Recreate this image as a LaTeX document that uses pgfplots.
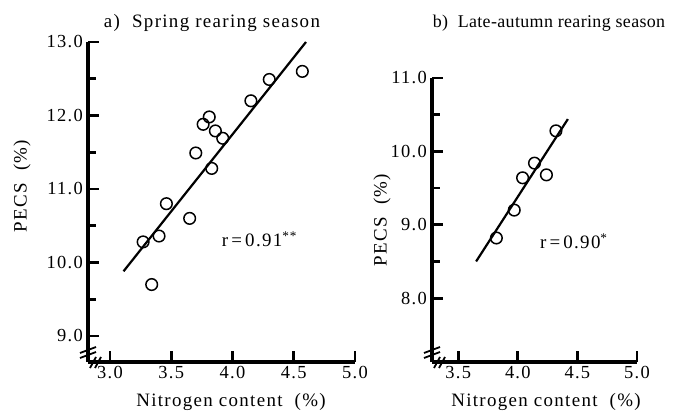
\documentclass[border=0pt]{standalone}
\usepackage{pgfplots}
\pgfplotsset{compat=1.18}
\usepackage{fontspec}
\setmainfont{Liberation Serif}[LetterSpace=7]
\newfontfamily\tightfont{Liberation Serif}[LetterSpace=2]
\pgfplotstableread{
x y
4.57 12.60
4.30 12.49
4.15 12.20
3.81 11.98
3.76 11.88
3.86 11.79
3.92 11.69
3.70 11.49
3.83 11.28
3.46 10.80
3.65 10.60
3.40 10.36
3.27 10.28
3.34 9.70
}\springdata
\pgfplotstableread{
x y
4.32 10.28
4.14 9.84
4.04 9.64
4.24 9.68
3.97 9.20
3.82 8.82
}\autumndata
\pgfplotsset{
  myax/.style={
    scale only axis,
    axis lines=left,
    axis line style={line width=3.6bp,black,-},
    every outer x axis line/.append style={line width=3.6bp},
    every outer y axis line/.append style={line width=3.6bp},
    tick style={line width=2.8bp,black},
    major tick length=11bp,
    minor tick length=7.5bp,
    tick align=inside,
    minor y tick num=1,
    xtick={3,3.5,4,4.5,5},
    xticklabel style={/pgf/number format/fixed,/pgf/number format/fixed zerofill,/pgf/number format/precision=1,/pgf/number format/assume math mode=true, font=\fontsize{18.5}{20}\selectfont, inner sep=0pt, yshift=-4bp},
    yticklabel style={/pgf/number format/fixed,/pgf/number format/fixed zerofill,/pgf/number format/precision=1,/pgf/number format/assume math mode=true, font=\fontsize{18.5}{20}\selectfont, inner sep=0pt, xshift=-5bp},
    clip=false,
  }
}
\begin{document}
\begin{tikzpicture}
\path[use as bounding box] (0,0) rectangle (688bp,412bp);
% panel a
\begin{axis}[myax, at={(88bp,50bp)}, anchor=south west,
  width=267bp, height=320bp,
  xmin=2.82, xmax=5.0, ymin=8.646, ymax=13.0,
  ytick={9,10,11,12,13}]
\addplot[only marks, mark=o, mark size=5.8bp, mark options={line width=1.5bp}] table {\springdata};
\addplot[line width=2.2bp] coordinates {(3.11,9.88) (4.60,13.0)};
\node[font=\fontsize{19}{20}\selectfont] at (axis cs:4.22,10.32) {r\,=\,0.91\textsuperscript{**}};
\end{axis}
% panel b
\begin{axis}[myax, at={(432bp,50bp)}, anchor=south west,
  width=205bp, height=284bp,
  xmin=3.28, xmax=5.0, ymin=7.13, ymax=11.0,
  ytick={8,9,10,11}, xtick={3.5,4,4.5,5}]
\addplot[only marks, mark=o, mark size=5.8bp, mark options={line width=1.5bp}] table {\autumndata};
\addplot[line width=2.2bp] coordinates {(3.65,8.5) (4.42,10.44)};
\node[font=\fontsize{19}{20}\selectfont] at (axis cs:4.47,8.77) {r\,=\,0.90\textsuperscript{*}};
\end{axis}
% axis break marks
\begin{scope}[line width=1.8bp]
\draw (80bp,59bp) -- (96bp,65bp);
\draw (80bp,54bp) -- (96bp,60bp);
\draw (90bp,44bp) -- (96bp,55bp);
\draw (95bp,44bp) -- (101bp,55bp);
\draw (424bp,59bp) -- (440bp,65bp);
\draw (424bp,54bp) -- (440bp,60bp);
\draw (434bp,44bp) -- (440bp,55bp);
\draw (439bp,44bp) -- (445bp,55bp);
\end{scope}
% titles and labels
\begin{scope}[font=\fontsize{19}{20}\selectfont]
\node at (212bp,389bp) {a)\ \ Spring rearing season};
\node[font=\tightfont\fontsize{18}{20}\selectfont] at (549bp,389bp) {b)\ \ Late-autumn rearing season};
\node at (231bp,10bp) {Nitrogen content\ \ (\%)};
\node at (546bp,10bp) {Nitrogen content\ \ (\%)};
\node[rotate=90] at (22bp,226bp) {PECS\ \ (\%)};
\node[rotate=90] at (382bp,192bp) {PECS\ \ (\%)};
\end{scope}
\end{tikzpicture}
\end{document}
